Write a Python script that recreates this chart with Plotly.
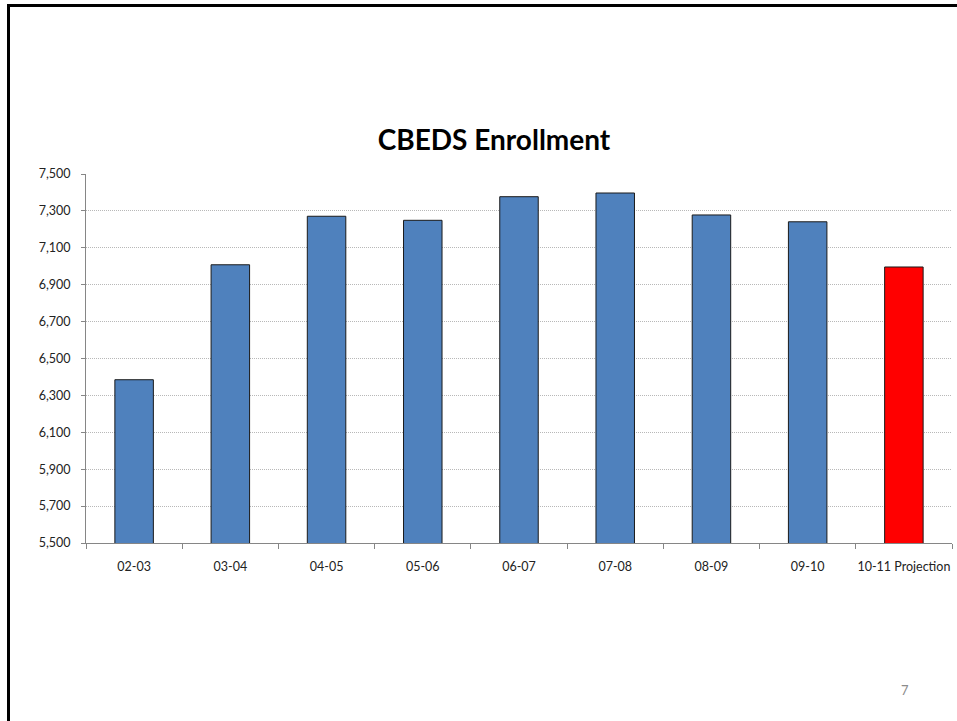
import plotly.graph_objects as go

# School years and CBEDS enrollment counts
years = ["02-03", "03-04", "04-05", "05-06", "06-07", "07-08", "08-09", "09-10", "10-11 Projection"]
enrollment = [6385, 7008, 7271, 7249, 7377, 7397, 7278, 7241, 6996]
bar_colors = ["#4F81BD"] * 8 + ["#FF0000"]

W, H = 957, 721
L, R, T, B = 86, 5, 174, 178
pw, ph = W - L - R, H - T - B


def px_x(x):
    return (x - L) / pw


def px_y(y):
    return (H - B - y) / ph


fig = go.Figure()
fig.add_trace(go.Bar(
    x=years,
    y=enrollment,
    marker=dict(color=bar_colors, line=dict(color="#1a1a1a", width=1)),
    width=0.4,
    hoverinfo="x+y",
))

font_family = "Lato, 'Open Sans', sans-serif"

fig.update_layout(
    width=W,
    height=H,
    margin=dict(l=L, r=R, t=T, b=B, autoexpand=False),
    paper_bgcolor="white",
    plot_bgcolor="white",
    showlegend=False,
    font=dict(family=font_family, size=12, color="#222222"),
    title=dict(
        text="<b>CBEDS Enrollment</b>",
        x=px_x(494), xref="paper", xanchor="center",
        y=1 - 140 / H, yref="container", yanchor="middle",
        font=dict(family=font_family, size=28, color="#000000"),
    ),
    xaxis=dict(
        type="category",
        automargin=False,
        tickangle=0,
        showline=True, linecolor="#868686", linewidth=1,
        ticks="outside", tickson="boundaries", ticklen=5, tickcolor="#868686",
        showgrid=False,
        ticklabelstandoff=12,
        tickfont=dict(size=12.5, color="#222222"),
    ),
    yaxis=dict(
        automargin=False,
        range=[5500, 7500], dtick=200, tick0=5500,
        tickformat=",",
        showline=True, linecolor="#868686", linewidth=1,
        ticks="outside", ticklen=4, tickcolor="#868686",
        showgrid=True, gridcolor="#b8b8b8", gridwidth=1, griddash="1px,1px",
        zeroline=False,
        ticklabelstandoff=8,
        tickfont=dict(size=12.5, color="#222222"),
    ),
    shapes=[
        # slide frame: left and top edges
        dict(type="line", xref="paper", yref="paper",
             x0=px_x(8.5), x1=px_x(8.5), y0=px_y(4), y1=px_y(H + 10),
             line=dict(color="#000000", width=3)),
        dict(type="line", xref="paper", yref="paper",
             x0=px_x(7), x1=px_x(W + 10), y0=px_y(5.5), y1=px_y(5.5),
             line=dict(color="#000000", width=3)),
    ],
    annotations=[
        dict(text="7", xref="paper", yref="paper",
             x=px_x(905), y=px_y(690), xanchor="center", yanchor="middle",
             showarrow=False, font=dict(family=font_family, size=13, color="#8c8c8c")),
    ],
)

fig.write_html("out.html")
